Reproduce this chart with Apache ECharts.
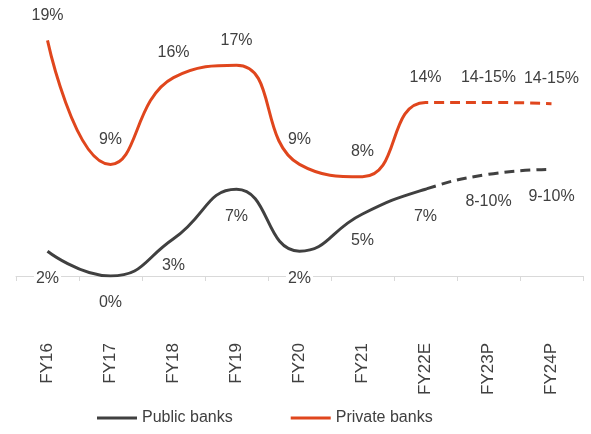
<!doctype html>
<html>
<head>
<meta charset="utf-8">
<script src="https://cdn.jsdelivr.net/npm/echarts@6/dist/echarts.min.js"></script>
<style>
* { margin: 0; padding: 0; }
body { background: #fff; }
#chart { width: 591px; height: 434px; }
</style>
</head>
<body>
<div id="chart"></div>
<script>
// 年份
var years = ['FY16', 'FY17', 'FY18', 'FY19', 'FY20', 'FY21', 'FY22E', 'FY23P', 'FY24P'];
// 数值
var publicVals = [2, 0, 3, 7, 2, 5, 7, 8.2, 8.6];
var privateVals = [19, 9, 16, 17, 9, 8, 14, 14, 13.9];
// 标签文字
var publicLabels = ['2%', '0%', '3%', '7%', '2%', '5%', '7%', '8-10%', '9-10%'];
var privateLabels = ['19%', '9%', '16%', '17%', '9%', '8%', '14%', '14-15%', '14-15%'];
// 从这个下标开始是虚线（预测）
var forecastFrom = 6;

var cPublic = '#404040';
var cPrivate = '#e0461d';
var textColor = '#404040';
var font = 'Liberation Sans, Arial, sans-serif';

// 实线部分 / 虚线部分 用渐变截断
var cut = forecastFrom / (years.length - 1);
function part(color, solid) {
	var a = solid ? color : 'rgba(0,0,0,0)';
	var b = solid ? 'rgba(0,0,0,0)' : color;
	return {
		type: 'linear', x: 0, y: 0, x2: 1, y2: 0,
		colorStops: [
			{offset: 0, color: a}, {offset: cut, color: a},
			{offset: cut, color: b}, {offset: 1, color: b}
		]
	};
}

function makeSeries(name, vals, labels, color, pos) {
	return [
		{
			name: name,
			type: 'line',
			smooth: 0.5,
			data: vals,
			symbol: 'circle',
			symbolSize: 2,
			itemStyle: {color: 'rgba(0,0,0,0)'},
			lineStyle: {width: 3, color: part(color, true)},
			label: {
				show: true,
				position: pos,
				distance: pos == 'top' ? 15 : 17,
				color: textColor,
				fontFamily: font,
				fontSize: 16,
				backgroundColor: '#fff',
				padding: [1, 2],
				formatter: function (p) { return labels[p.dataIndex]; }
			},
			z: 3
		},
		{
			name: name,
			type: 'line',
			smooth: 0.5,
			data: vals,
			showSymbol: false,
			lineStyle: {width: 3, type: [10, 6], color: part(color, false)},
			silent: true,
			z: 2
		}
	];
}

var myChart = echarts.init(document.getElementById('chart'));
var option = {
	animation: false,
	grid: {left: 16, right: 8, top: 28, bottom: 158},
	legend: {
		left: 92,
		top: 405,
		itemWidth: 40,
		itemHeight: 3,
		itemGap: 58,
		icon: 'rect',
		textStyle: {color: textColor, fontSize: 16, fontFamily: font},
		data: [
			{name: 'Public banks', itemStyle: {color: cPublic}},
			{name: 'Private banks', itemStyle: {color: cPrivate}}
		]
	},
	xAxis: {
		type: 'category',
		data: years,
		axisLine: {lineStyle: {color: '#d9d9d9'}},
		axisTick: {show: true, length: 5, lineStyle: {color: '#d9d9d9'}},
		axisLabel: {
			rotate: 90,
			margin: 67,
			interval: 0,
			color: textColor,
			fontSize: 17,
			fontFamily: font
		}
	},
	yAxis: {
		type: 'value',
		min: 0,
		max: 20,
		show: false,
		splitLine: {show: false}
	},
	series: [].concat(
		makeSeries('Public banks', publicVals, publicLabels, cPublic, 'bottom'),
		makeSeries('Private banks', privateVals, privateLabels, cPrivate, 'top')
	)
};
myChart.setOption(option);
</script>
</body>
</html>
